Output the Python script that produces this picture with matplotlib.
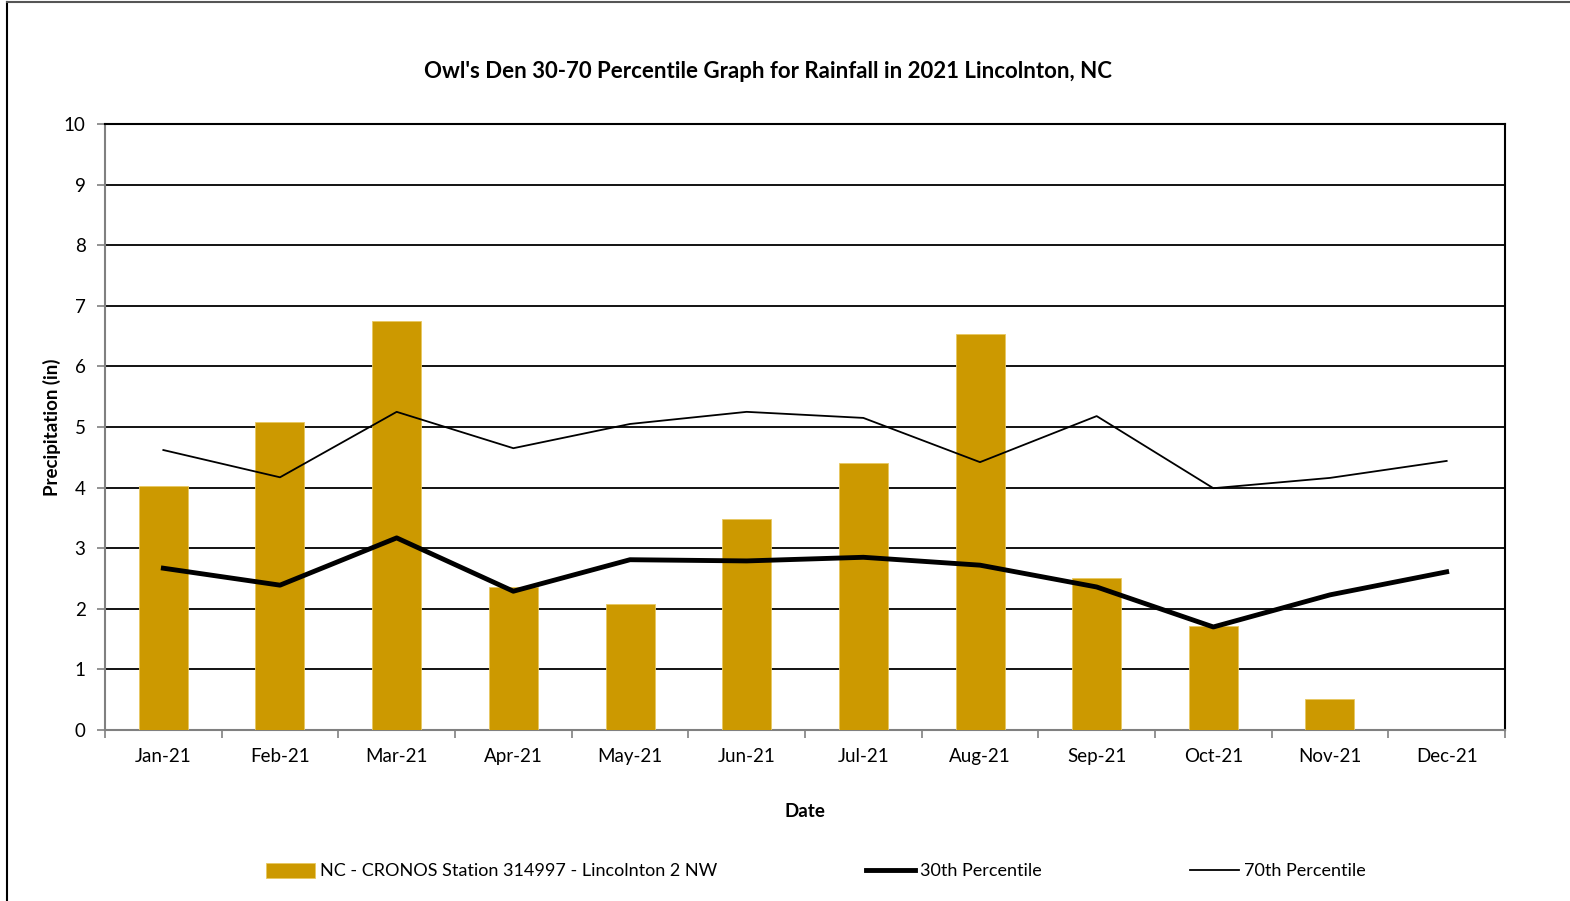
import matplotlib
matplotlib.use("Agg")
import matplotlib.pyplot as plt
from matplotlib.lines import Line2D
import numpy as np

plt.rcParams['font.family'] = ['Lato', 'DejaVu Sans']

months = ["Jan-21", "Feb-21", "Mar-21", "Apr-21", "May-21", "Jun-21",
          "Jul-21", "Aug-21", "Sep-21", "Oct-21", "Nov-21", "Dec-21"]
rainfall = [4.03, 5.08, 6.75, 2.36, 2.08, 3.48, 4.41, 6.53, 2.51, 1.72, 0.51, 0.0]
p30 = [2.67, 2.39, 3.17, 2.29, 2.81, 2.79, 2.85, 2.72, 2.36, 1.70, 2.23, 2.61]
p70 = [4.62, 4.17, 5.25, 4.65, 5.05, 5.25, 5.15, 4.42, 5.18, 3.99, 4.16, 4.44]
yticks = list(range(0, 11))

W, H = 1570, 901
fig = plt.figure(figsize=(W / 100, H / 100), dpi=100)
ax = fig.add_axes([105 / W, 1 - 730 / H, 1400 / W, (730 - 124) / H])

x = np.arange(len(months))
bar_color = "#CC9900"
b = ax.bar(x, rainfall, width=0.42, color=bar_color, edgecolor="#E8C860", linewidth=0.6, zorder=3,
           label="NC - CRONOS Station 314997 - Lincolnton 2 NW")
l30, = ax.plot(x, p30, color="black", linewidth=3.5, zorder=4, label="30th Percentile")
l70, = ax.plot(x, p70, color="black", linewidth=1.3, zorder=4, label="70th Percentile")

ax.set_xlim(-0.5, len(months) - 0.5)
ax.set_ylim(0, 10)
ax.set_yticks(yticks)
ax.yaxis.grid(True, color="black", linewidth=1.3, zorder=0)
ax.set_axisbelow(True)

ax.set_xticks(x)
ax.set_xticklabels(months, fontsize=13.5)
ax.set_xticks(np.arange(-0.5, len(months), 1), minor=True)
ax.tick_params(axis="x", which="major", length=0, pad=13)
ax.tick_params(axis="x", which="minor", length=6, color="#808080", width=1.2, direction="out")
ax.tick_params(axis="y", length=6, color="#808080", width=1.2, labelsize=13.5, pad=8)

for s in ["top", "right"]:
    ax.spines[s].set_color("black")
    ax.spines[s].set_linewidth(1.5)
for s in ["left", "bottom"]:
    ax.spines[s].set_color("#808080")
    ax.spines[s].set_linewidth(1.5)

ax.set_xlabel("Date", fontsize=13.5, fontweight="bold", labelpad=27)
ax.set_ylabel("Precipitation (in)", fontsize=13.5, fontweight="bold", labelpad=2)

fig.text(768 / W, 1 - 72 / H, "Owl's Den 30-70 Percentile Graph for Rainfall in 2021 Lincolnton, NC",
         ha="center", va="center", fontsize=16, fontweight="bold")

leg = fig.legend([b, l30, l70], [b.get_label(), l30.get_label(), l70.get_label()],
                 loc="center", bbox_to_anchor=(816 / W, 1 - 871 / H),
                 ncol=3, frameon=False, fontsize=13, handlelength=2.7, handleheight=0.9,
                 handletextpad=0.3, columnspacing=8.2)

# figure border (left and top only, as in the reference crop)
fig.add_artist(Line2D([7 / W, 7 / W], [0, 1 - 2 / H], color="black", linewidth=1.5,
                      transform=fig.transFigure))
fig.add_artist(Line2D([7 / W, 1], [1 - 2 / H, 1 - 2 / H], color="#555555", linewidth=1.5,
                      transform=fig.transFigure))

fig.savefig("out.png", dpi=100)
